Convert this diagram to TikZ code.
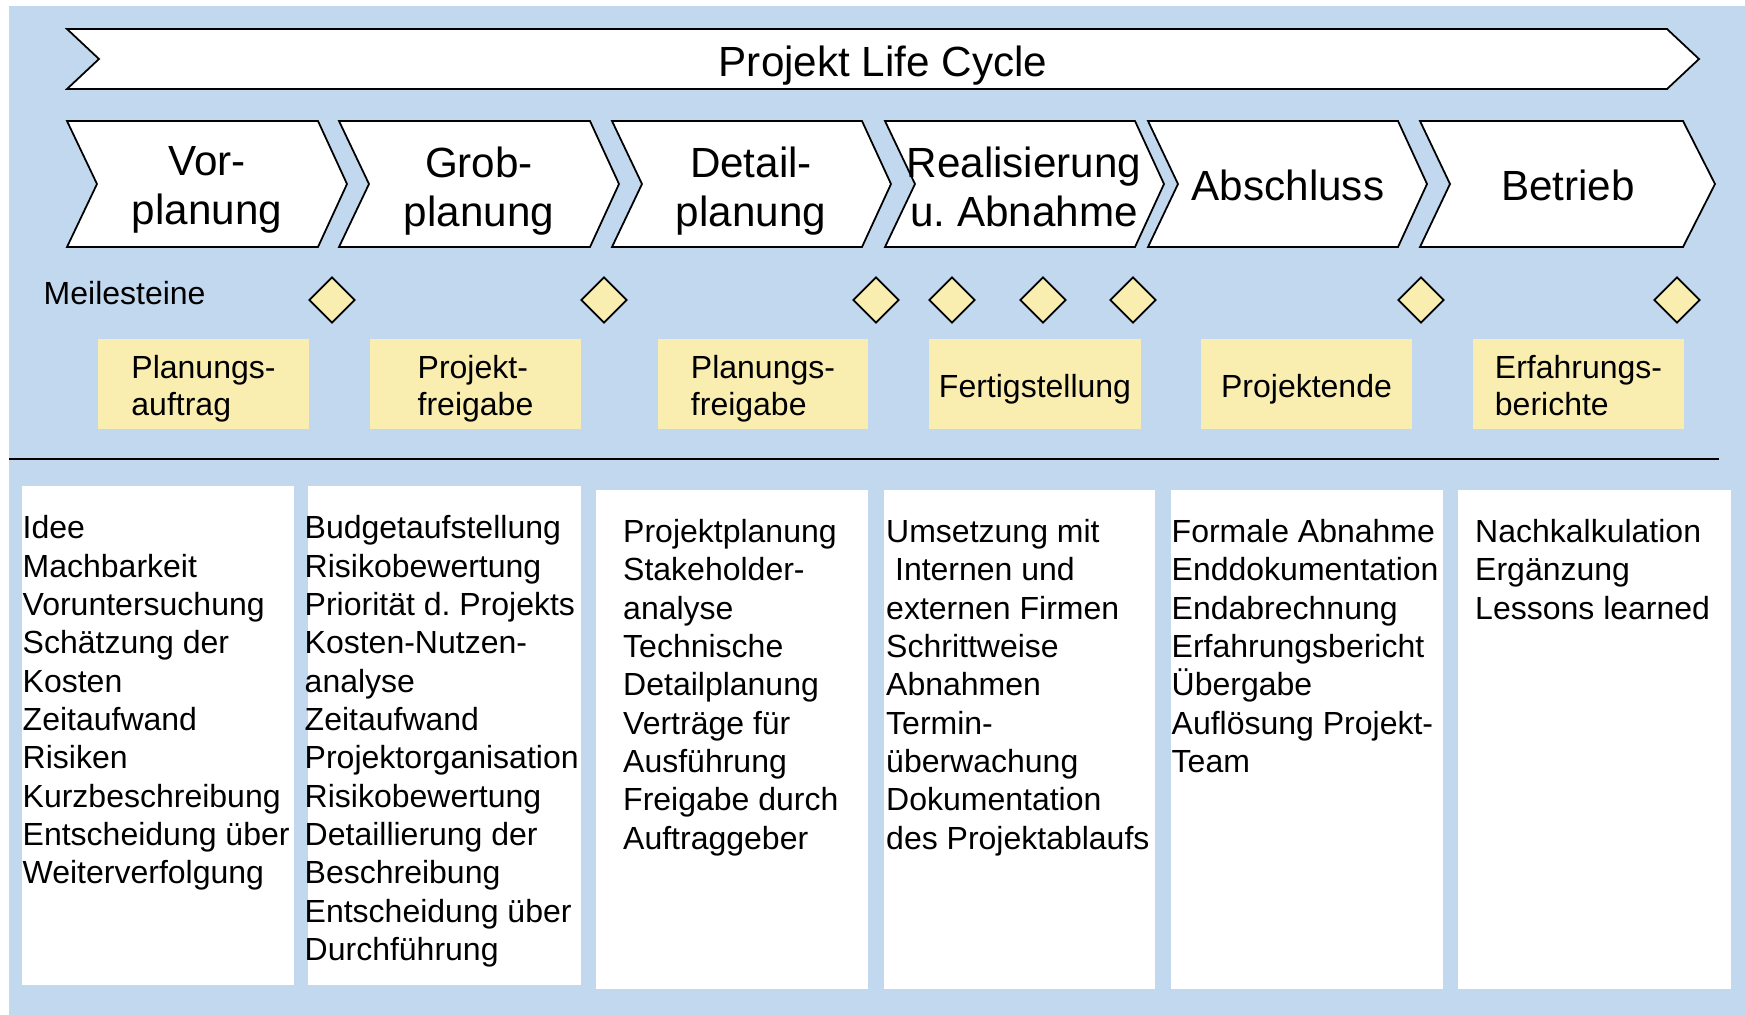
\documentclass[tikz,border=0pt]{standalone}
\usepackage{fontspec}
\setmainfont{Liberation Sans}
\usetikzlibrary{shapes.geometric}
\definecolor{bgblue}{RGB}{193,216,238}
\definecolor{msyellow}{RGB}{249,238,176}
\frenchspacing

\begin{document}
\begin{tikzpicture}[x=0.01cm, y=-0.01cm,
  phase/.style={draw=black, fill=white, line width=0.5pt, line join=miter},
  big/.style={inner sep=0pt, font=\fontsize{12}{13.9}\selectfont, align=center},
  small/.style={inner sep=0pt, font=\fontsize{9.1}{10.9}\selectfont, align=left},
  goal/.style={inner sep=0pt, font=\fontsize{9.1}{10.45}\selectfont, align=left},
  ms/.style={draw, fill=msyellow, diamond, aspect=1, minimum size=0.46cm, inner sep=0pt, line width=0.5pt}]
\useasboundingbox (0,0) rectangle (1745,1015);
\fill[white] (0,0) rectangle (1745,1015);
\fill[bgblue] (9,6) rectangle (1745,1015);

\draw[phase] (67,29) -- (1667,29) -- (1699,59) -- (1667,89) -- (67,89) -- (99,59) -- cycle;
\node[big, anchor=base] (lc) at (883,77) {Projekt Life Cycle};

\draw[phase] (67,121) -- (318,121) -- (347,184) -- (318,247) -- (67,247) -- (97,184) -- cycle;
\draw[phase] (339,121) -- (590,121) -- (619,184) -- (590,247) -- (339,247) -- (369,184) -- cycle;
\draw[phase] (612,121) -- (862,121) -- (891,184) -- (862,247) -- (612,247) -- (642,184) -- cycle;
\draw[phase] (885,121) -- (1135,121) -- (1164,184) -- (1135,247) -- (885,247) -- (915,184) -- cycle;
\draw[phase] (1148,121) -- (1398,121) -- (1427,184) -- (1398,247) -- (1148,247) -- (1178,184) -- cycle;
\draw[phase] (1420,121) -- (1683,121) -- (1715,184) -- (1683,247) -- (1420,247) -- (1450,184) -- cycle;
\node[big, anchor=north] (p1) at (207,146) {Vor-\\planung};
\node[big, anchor=north] (p2) at (479,146) {Grob-\\planung};
\node[big, anchor=north] (p3) at (751,146) {Detail-\\planung};
\node[big, anchor=north] (p4) at (1024,146) {Realisierung\\u. Abnahme};
\node[big, anchor=base] (p5) at (1288,200) {Abschluss};
\node[big, anchor=base] (p6) at (1568,200) {Betrieb};

\node[small, anchor=base west] (ml) at (43,304) {Meilesteine};
\node[ms] (m1) at (332,300) {};
\node[ms] (m2) at (604,300) {};
\node[ms] (m3) at (876,300) {};
\node[ms] (m4) at (952,300) {};
\node[ms] (m5) at (1043,300) {};
\node[ms] (m6) at (1133,300) {};
\node[ms] (m7) at (1421,300) {};
\node[ms] (m8) at (1677,300) {};

\fill[msyellow] (98,339) rectangle (309,429);
\fill[msyellow] (370,339) rectangle (581,429);
\fill[msyellow] (658,339) rectangle (868,429);
\fill[msyellow] (929,339) rectangle (1141,429);
\fill[msyellow] (1201,339) rectangle (1412,429);
\fill[msyellow] (1473,339) rectangle (1684,429);
\node[goal, anchor=north] (g1) at (203.5,355) {Planungs-\\auftrag};
\node[goal, anchor=north] (g2) at (475.5,355) {Projekt-\\freigabe};
\node[goal, anchor=north] (g3) at (763,355) {Planungs-\\freigabe};
\node[goal, anchor=base] (g4) at (1035,397) {Fertigstellung};
\node[goal, anchor=base] (g5) at (1306.5,397) {Projektende};
\node[goal, anchor=north] (g6) at (1578.5,355) {Erfahrungs-\\berichte};

\draw[line width=0.5pt] (9,459) -- (1719,459);

\fill[white] (22,486) rectangle (294,985);
\fill[white] (308,486) rectangle (581,985);
\fill[white] (596,490) rectangle (868,989);
\fill[white] (884,490) rectangle (1155,989);
\fill[white] (1171,490) rectangle (1443,989);
\fill[white] (1458,490) rectangle (1731,989);
\node[small, anchor=north west] (w1) at (22,515) {Idee\\Machbarkeit\\Voruntersuchung\\Schätzung der\\Kosten\\Zeitaufwand\\Risiken\\Kurzbeschreibung\\Entscheidung über\\Weiterverfolgung};
\node[small, anchor=north west] (w2) at (304,515) {Budgetaufstellung\\Risikobewertung\\Priorität d. Projekts\\Kosten-Nutzen-\\analyse\\Zeitaufwand\\Projektorganisation\\Risikobewertung\\Detaillierung der\\Beschreibung\\Entscheidung über\\Durchführung};
\node[small, anchor=north west] (w3) at (622.5,518.5) {Projektplanung\\Stakeholder-\\analyse\\Technische\\Detailplanung\\Verträge für\\Ausführung\\Freigabe durch\\Auftraggeber};
\node[small, anchor=north west] (w4) at (885.5,518.5) {Umsetzung mit\\\ Internen und\\externen Firmen\\Schrittweise\\Abnahmen\\Termin-\\überwachung\\Dokumentation\\des Projektablaufs};
\node[small, anchor=north west] (w5) at (1171,518.5) {Formale Abnahme\\Enddokumentation\\Endabrechnung\\Erfahrungsbericht\\Übergabe\\Auflösung Projekt-\\Team};
\node[small, anchor=north west] (w6) at (1474.5,518.5) {Nachkalkulation\\Ergänzung\\Lessons learned};
\end{tikzpicture}
\end{document}
